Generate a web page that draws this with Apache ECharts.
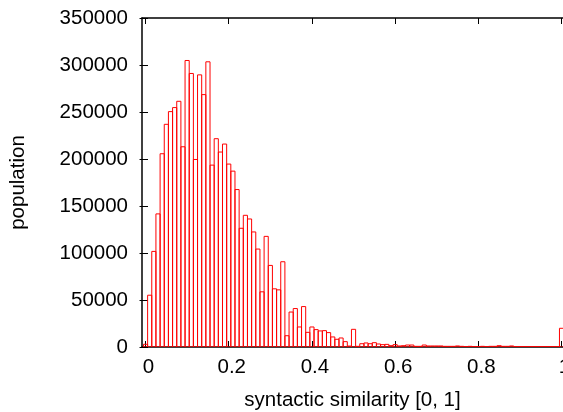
<!DOCTYPE html>
<html>
<head>
<meta charset="utf-8">
<script src="https://cdn.jsdelivr.net/npm/echarts@6/dist/echarts.min.js"></script>
<style>html,body{margin:0;padding:0;background:#fff;}#c{width:563px;height:412px;}</style>
</head>
<body>
<div id="c"></div>
<script>
var binWidth = 0.01;
var binStarts = 0;
var populations = [
  2900, 55100, 101700, 141600, 205600, 236900, 250400, 254700, 261400, 213000,
  304800, 291000, 199500, 289500, 268500, 303400, 193500, 221600, 207400, 215900,
  194600, 187100, 167500, 126300, 140100, 136200, 122400, 104200, 58700, 117700,
  86800, 61900, 60800, 90700, 12000, 37200, 40900, 21300, 43000, 15600,
  21300, 18500, 17100, 17400, 15300, 10700, 8200, 9600, 5700, 1000,
  18800, 700, 3500, 4300, 3500, 4600, 3200, 2500, 2800, 1400,
  2500, 1100, 1400, 2100, 2100, 700, 700, 2100, 1100, 1100,
  1100, 1100, 700, 700, 700, 1100, 700, 400, 700, 400,
  400, 700, 400, 700, 700, 1400, 700, 700, 1100, 400,
  400, 400, 400, 400, 400, 400, 400, 400, 400, 400,
  19900
];
var xTickValues = [0, 0.2, 0.4, 0.6, 0.8, 1];
var yTickInterval = 50000;
var yMax = 350000;

var barData = populations.map(function (v, i) { return [binStarts + i * binWidth, v]; });

var chart = echarts.init(document.getElementById('c'), null, {renderer: 'canvas'});
var font = 'Liberation Sans, Arial, Helvetica, sans-serif';
var fs = 20.5;
var xCommon = {
  type: 'value', min: -0.0085, max: 1.0035,
  splitLine: {show: false},
  axisTick: {inside: true, length: 6, lineStyle: {color: '#000', width: 1}, customValues: xTickValues}
};
var yCommon = {
  type: 'value', min: 0, max: yMax, interval: yTickInterval,
  splitLine: {show: false},
  axisTick: {inside: true, length: 6, lineStyle: {color: '#000', width: 1}}
};
chart.setOption({
  animation: false,
  grid: {left: 142, right: 0, top: 18, bottom: 65, containLabel: false, outerBoundsMode: 'none'},
  xAxis: [
    Object.assign({}, xCommon, {
      position: 'bottom',
      axisLine: {show: true, onZero: false, lineStyle: {color: '#000', width: 1.5}},
      axisLabel: {
        customValues: xTickValues, margin: 10, color: '#000', fontSize: fs, fontFamily: font,
        padding: [0, 0, 0, 6],
        formatter: function (v) { return String(Math.round(v * 10) / 10); }
      },
      name: 'syntactic similarity [0, 1]', nameLocation: 'middle', nameGap: 43,
      nameTextStyle: {color: '#000', fontSize: fs, fontFamily: font}
    }),
    Object.assign({}, xCommon, {
      position: 'top',
      axisLine: {show: true, onZero: false, lineStyle: {color: '#000', width: 1.5}},
      axisLabel: {show: false}
    })
  ],
  yAxis: [
    Object.assign({}, yCommon, {
      position: 'left',
      axisLine: {show: true, onZero: false, lineStyle: {color: '#000', width: 1.5}},
      axisLabel: {margin: 14, color: '#000', fontSize: fs, fontFamily: font, formatter: function (v) { return String(v); }},
      name: 'population', nameLocation: 'middle', nameGap: 113,
      nameTextStyle: {color: '#000', fontSize: fs, fontFamily: font}
    }),
    Object.assign({}, yCommon, {
      position: 'right',
      axisLine: {show: false},
      axisLabel: {show: false}
    })
  ],
  series: [{
    type: 'custom',
    xAxisIndex: 0, yAxisIndex: 0,
    clip: true,
    data: barData,
    encode: {x: 0, y: 1},
    renderItem: function (params, api) {
      var x = api.value(0), v = api.value(1);
      var p0 = api.coord([x - binWidth / 2, 0]);
      var p1 = api.coord([x + binWidth / 2, v]);
      return {
        type: 'rect',
        shape: {x: p0[0], y: p1[1], width: p1[0] - p0[0], height: p0[1] - p1[1]},
        style: {fill: 'none', stroke: '#ff0000', lineWidth: 1}
      };
    }
  }]
});
</script>
</body>
</html>
